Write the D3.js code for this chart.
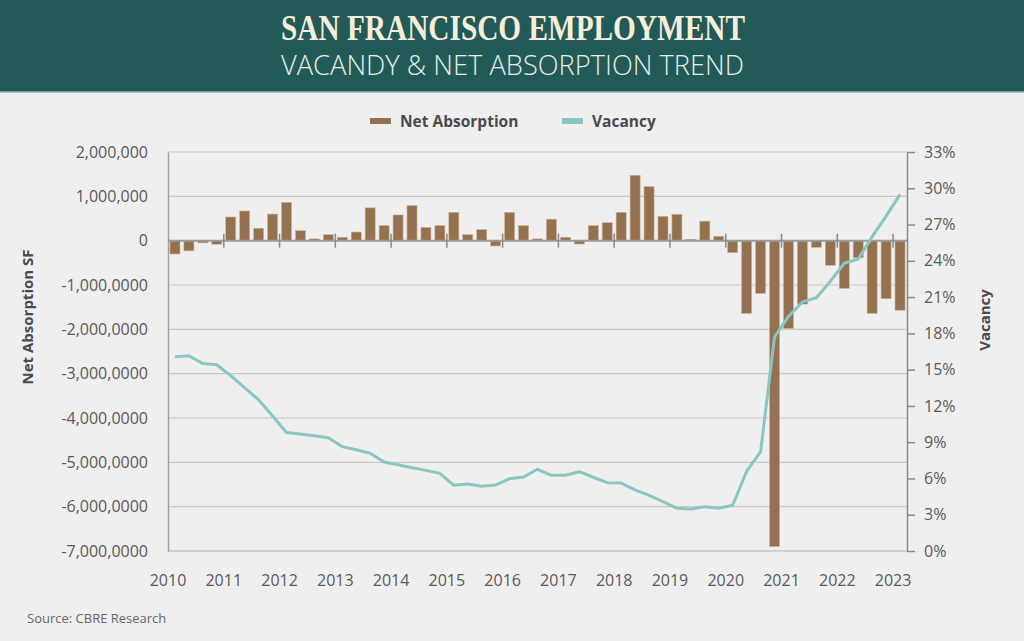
<!DOCTYPE html>
<html>
<head>
<meta charset="utf-8">
<script src="https://cdn.jsdelivr.net/npm/d3@7/dist/d3.min.js"></script>
<style>
  html, body { margin: 0; padding: 0; background: #efefef; }
  svg { display: block; }
</style>
</head>
<body>
<svg id="chart" width="1024" height="641"></svg>
<script>
// ---------- DATA ----------
const years = [2010, 2011, 2012, 2013, 2014, 2015, 2016, 2017, 2018, 2019, 2020, 2021, 2022, 2023];
const quarterNames = ["Q1", "Q2", "Q3", "Q4"];

// Net absorption (SF), quarterly 2010 Q1 .. 2023 Q1
const netAbsorption = [
  -300000, -230000, -50000, -80000,
  535000, 670000, 280000, 600000,
  865000, 225000, 40000, 135000,
  77000, 195000, 740000, 340000,
  580000, 790000, 300000, 340000,
  640000, 135000, 250000, -120000,
  640000, 340000, 40000, 485000,
  77000, -75000, 340000, 405000,
  640000, 1475000, 1220000, 550000,
  595000, 30000, 440000, 100000,
  -270000, -1640000, -1190000, -6900000,
  -1980000, -1430000, -150000, -555000,
  -1075000, -385000, -1640000, -1310000,
  -1570000
];

// Vacancy rate (%), quarterly 2010 Q1 .. 2023 Q1
const vacancy = [
  16.07, 16.15, 15.5, 15.4,
  14.5, 13.5, 12.5, 11.17,
  9.8, 9.68, 9.53, 9.37,
  8.63, 8.37, 8.08, 7.36,
  7.14, 6.89, 6.67, 6.42,
  5.43, 5.54, 5.35, 5.46,
  5.98, 6.12, 6.76, 6.26,
  6.26, 6.56, 6.1, 5.65,
  5.62, 5.05, 4.6, 4.08,
  3.53, 3.47, 3.66, 3.53,
  3.78, 6.6, 8.2, 17.7,
  19.4, 20.6, 20.95, 22.3,
  23.8, 24.15, 26.0, 27.7,
  29.5
];

const leftTickValues = [2000000, 1000000, 0, -1000000, -2000000, -3000000, -4000000, -5000000, -6000000, -7000000];
const leftTickLabels = ["2,000,000", "1,000,000", "0", "-1,000,0000", "-2,000,0000", "-3,000,0000", "-4,000,0000", "-5,000,0000", "-6,000,0000", "-7,000,0000"];
const rightTickValues = [0, 3, 6, 9, 12, 15, 18, 21, 24, 27, 30, 33];

const titleText = "SAN FRANCISCO EMPLOYMENT";
const subtitleText = "VACANDY & NET ABSORPTION TREND";
const seriesNames = ["Net Absorption", "Vacancy"];
const leftAxisTitle = "Net Absorption SF";
const rightAxisTitle = "Vacancy";
const sourceText = "Source: CBRE Research";

// ---------- STYLE ----------
const barColor = "#94714f";
const lineColor = "#88c6c2";
const textColor = "#595959";
const font = "'Open Sans', 'Noto Sans', sans-serif";

const quarters = years.flatMap(y => quarterNames.map(q => y + " " + q)).slice(0, netAbsorption.length);

const svg = d3.select("#chart");

// Header
svg.append("rect").attr("x", 0).attr("y", 0).attr("width", 1024).attr("height", 92).attr("fill", "#225a57");
svg.append("rect").attr("x", 0).attr("y", 91).attr("width", 1024).attr("height", 1.5).attr("fill", "#6f9c99");
svg.append("text")
  .attr("x", 513).attr("y", 40)
  .attr("text-anchor", "middle")
  .attr("textLength", 464).attr("lengthAdjust", "spacingAndGlyphs")
  .attr("font-family", "'Liberation Serif', 'DejaVu Serif', serif")
  .attr("font-weight", "bold").attr("font-size", 35)
  .attr("fill", "#f6eedb")
  .text(titleText);
svg.append("text")
  .attr("x", 512.5).attr("y", 75)
  .attr("text-anchor", "middle")
  .attr("textLength", 463).attr("lengthAdjust", "spacingAndGlyphs")
  .attr("font-family", font)
  .attr("font-weight", 300).attr("font-size", 27)
  .attr("fill", "#e6eeec")
  .text(subtitleText);

// Scales
const plotLeft = 168, plotRight = 907, plotTop = 152, plotBottom = 551;
const x = d3.scaleBand().domain(quarters).range([plotLeft, plotRight]).paddingInner(0.28).paddingOuter(0.14);
const yL = d3.scaleLinear().domain([-7000000, 2000000]).range([plotBottom, plotTop]);
const yR = d3.scaleLinear().domain([0, 33]).range([plotBottom, plotTop]);
const cellStart = q => x(q) - (x.step() - x.bandwidth()) / 2;

// Gridlines
svg.append("g").selectAll("line")
  .data(leftTickValues.filter(v => v !== 0 && v !== -7000000))
  .join("line")
  .attr("x1", plotLeft).attr("x2", plotRight)
  .attr("y1", d => yL(d)).attr("y2", d => yL(d))
  .attr("stroke", "#c8c8c8").attr("stroke-width", 1.2);

// bottom baseline
svg.append("line")
  .attr("x1", plotLeft).attr("x2", plotRight)
  .attr("y1", yL(-7000000)).attr("y2", yL(-7000000))
  .attr("stroke", "#b0b0b0").attr("stroke-width", 1.2);

// Left axis
const leftAxis = d3.axisLeft(yL).tickValues(leftTickValues)
  .tickFormat((d, i) => leftTickLabels[i]).tickSize(0).tickPadding(20);
const gL = svg.append("g").attr("transform", `translate(${plotLeft},0)`).call(leftAxis);
gL.select(".domain").attr("stroke", "#a0a0a0").attr("stroke-width", 1.5);
gL.selectAll("text").attr("font-family", font).attr("font-size", 16).attr("fill", textColor);

// Bars
svg.append("g").selectAll("rect")
  .data(netAbsorption)
  .join("rect")
  .attr("x", (d, i) => x(quarters[i]))
  .attr("width", x.bandwidth())
  .attr("y", d => yL(Math.max(0, d)))
  .attr("height", d => Math.abs(yL(d) - yL(0)))
  .attr("fill", barColor)
  .attr("stroke", "#cdb295").attr("stroke-width", 0.6);

// Zero line
svg.append("line")
  .attr("x1", plotLeft).attr("x2", plotRight)
  .attr("y1", yL(0)).attr("y2", yL(0))
  .attr("stroke", "#9a9a9a").attr("stroke-width", 2);

// Year ticks on zero line
svg.append("g").selectAll("line")
  .data(years.slice(1))
  .join("line")
  .attr("x1", d => cellStart(d + " Q1")).attr("x2", d => cellStart(d + " Q1"))
  .attr("y1", yL(0) - 7).attr("y2", yL(0) + 7)
  .attr("stroke", "#8a8a8a").attr("stroke-width", 1.5);

// Year labels
svg.append("g").selectAll("text")
  .data(years)
  .join("text")
  .attr("x", d => cellStart(d + " Q1"))
  .attr("y", 586)
  .attr("text-anchor", "middle")
  .attr("font-family", font).attr("font-size", 16).attr("fill", textColor)
  .text(d => d);

// Vacancy line
const line = d3.line()
  .x((d, i) => x(quarters[i]) + x.bandwidth() / 2)
  .y(d => yR(d));
svg.append("path")
  .datum(vacancy)
  .attr("d", line)
  .attr("fill", "none")
  .attr("stroke", lineColor).attr("stroke-width", 3)
  .attr("stroke-linejoin", "round");

// Right axis
const rightAxis = d3.axisRight(yR).tickValues(rightTickValues)
  .tickFormat(d => d + "%").tickSize(8).tickPadding(9).tickSizeOuter(0);
const gR = svg.append("g").attr("transform", `translate(${plotRight},0)`).call(rightAxis);
gR.select(".domain").attr("stroke", "#8a8a8a").attr("stroke-width", 1.5);
gR.selectAll(".tick line").attr("stroke", "#8a8a8a").attr("stroke-width", 1.5);
gR.selectAll("text").attr("font-family", font).attr("font-size", 16).attr("fill", textColor);

// Axis titles
svg.append("text")
  .attr("transform", "translate(33,317) rotate(-90)")
  .attr("text-anchor", "middle")
  .attr("font-family", font).attr("font-weight", "bold").attr("font-size", 15).attr("fill", "#4a4a4a")
  .text(leftAxisTitle);
svg.append("text")
  .attr("transform", "translate(990,320) rotate(-90)")
  .attr("text-anchor", "middle")
  .attr("font-family", font).attr("font-weight", "bold").attr("font-size", 15).attr("fill", "#4a4a4a")
  .text(rightAxisTitle);

// Legend
const legend = svg.append("g");
const legendItems = [
  { name: seriesNames[0], color: barColor, x: 370 },
  { name: seriesNames[1], color: lineColor, x: 562 }
];
legendItems.forEach(it => {
  legend.append("rect").attr("x", it.x).attr("y", 118).attr("width", 21).attr("height", 6).attr("fill", it.color);
  legend.append("text").attr("x", it.x + 30).attr("y", 126.5)
    .attr("font-family", font).attr("font-weight", "bold").attr("font-size", 15.5).attr("fill", "#4a4a4a")
    .text(it.name);
});

// Source
svg.append("text")
  .attr("x", 27).attr("y", 623)
  .attr("font-family", font).attr("font-size", 13).attr("fill", "#666")
  .text(sourceText);
</script>
</body>
</html>
